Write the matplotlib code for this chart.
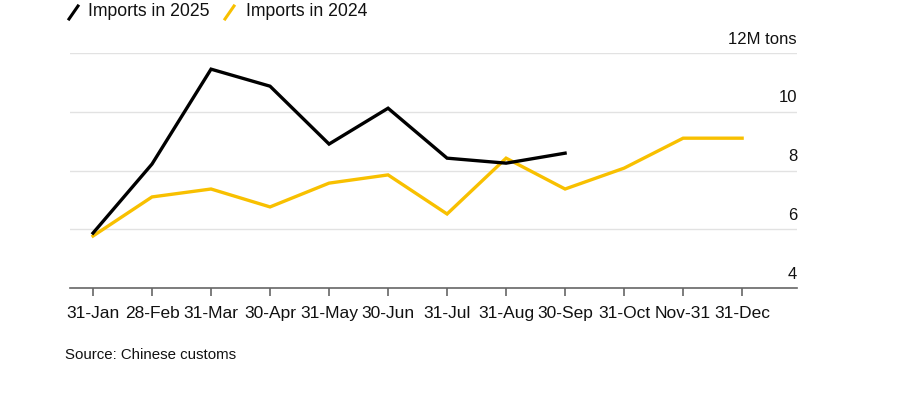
import matplotlib.pyplot as plt
from matplotlib.lines import Line2D

plt.rcParams['font.family'] = ['Liberation Sans', 'DejaVu Sans']

months = ["31-Jan", "28-Feb", "31-Mar", "30-Apr", "31-May", "30-Jun",
          "31-Jul", "31-Aug", "30-Sep", "31-Oct", "Nov-31", "31-Dec"]
imports_2025 = [5.87, 8.22, 11.45, 10.87, 8.90, 10.12, 8.42, 8.25, 8.59]
imports_2024 = [5.77, 7.10, 7.37, 6.76, 7.57, 7.85, 6.52, 8.42, 7.37, 8.08, 9.10, 9.10]
y_ticks = [4, 6, 8, 10, 12]
y_labels = ["4", "6", "8", "10", "12M tons"]

BLACK = "#000000"
YELLOW = "#F8C000"

fig = plt.figure(figsize=(9, 3.94), dpi=100)
ax = fig.add_axes([70 / 900, 1 - 288 / 394, 727 / 900, 235 / 394])

x = list(range(len(months)))
ax.plot(x, imports_2024, color=YELLOW, lw=2.4, solid_joinstyle="miter")
ax.plot(x[:len(imports_2025)], imports_2025, color=BLACK, lw=2.4, solid_joinstyle="miter")

ax.set_xlim(-0.39, 11.93)
ax.set_ylim(4, 12)

for v in y_ticks[1:]:
    ax.axhline(v, color="#e2e2e2", lw=1, zorder=0)
for v, lab in zip(y_ticks, y_labels):
    ax.text(1.0, v + 0.22, lab, transform=ax.get_yaxis_transform(),
            ha="right", va="bottom", fontsize=12, color="#111111")

for s in ["top", "right", "left"]:
    ax.spines[s].set_visible(False)
ax.spines["bottom"].set_color("#666666")
ax.spines["bottom"].set_linewidth(1.2)
ax.set_yticks([])
ax.set_xticks(x)
ax.set_xticklabels(months, fontsize=12.5, color="#111111")
ax.tick_params(axis="x", length=6, width=1.2, color="#666666", pad=7)

# legend
fig.add_artist(Line2D([69 / 900, 78 / 900], [1 - 19 / 394, 1 - 6 / 394], color=BLACK, lw=2.2))
fig.text(88 / 900, 1 - 12 / 394, "Imports in 2025", fontsize=12.7, va="center", color="#111111")
fig.add_artist(Line2D([225 / 900, 234 / 900], [1 - 19 / 394, 1 - 6 / 394], color=YELLOW, lw=2.2))
fig.text(246 / 900, 1 - 12 / 394, "Imports in 2024", fontsize=12.7, va="center", color="#111111")

fig.text(65 / 900, 1 - 355 / 394, "Source: Chinese customs", fontsize=10.8, va="center", color="#111111")

fig.savefig("out.png", dpi=100)
